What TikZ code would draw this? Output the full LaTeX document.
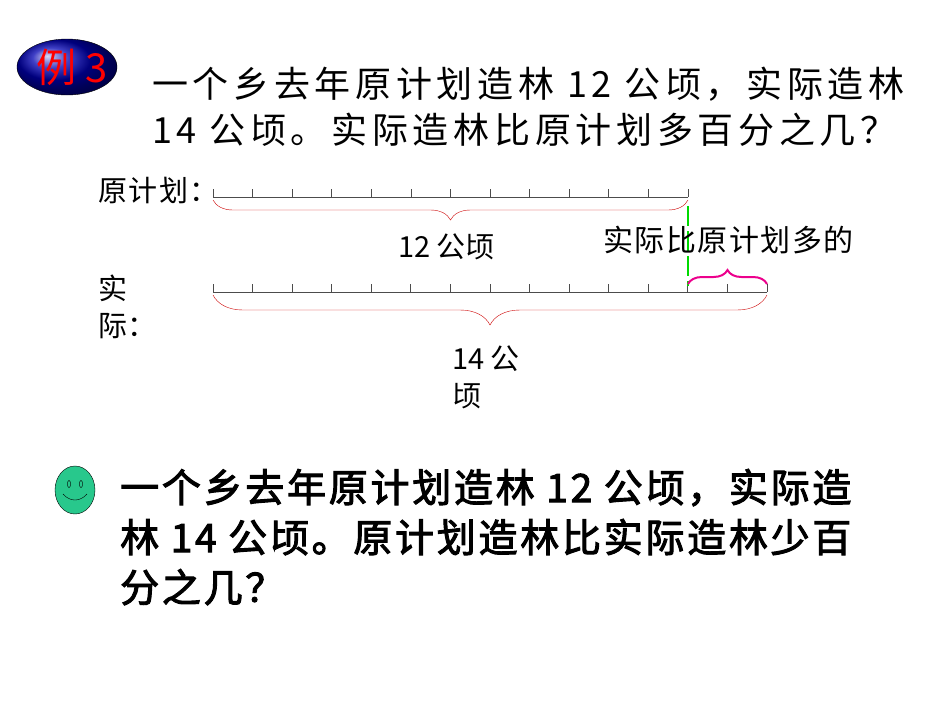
\documentclass[tikz,border=0pt]{standalone}
\usepackage{fontspec}
\setmainfont{Noto Sans CJK SC}[AutoFakeBold=2.5]
\usetikzlibrary{decorations.pathreplacing}
\begin{document}
\begin{tikzpicture}[x=1pt,y=-1pt,
  txt/.style={anchor=base west,inner sep=0pt,font=\fontsize{#1}{#1}\selectfont},
  rbrace/.style={draw=red!80!black,decorate,decoration={brace,mirror,amplitude=#1}},
  tick/.style={draw=black!70,line width=0.8pt}]
\useasboundingbox (0,0) rectangle (950,713);
% badge
\shade[ball color=blue!70!black,draw=black] (67,67) ellipse (50 and 28);
\node[txt=40,text=red] (ex) at (36,82) {例 3};
% title
\node[txt=36] (t1) at (152,97) {\addfontfeature{LetterSpace=13}一个乡去年原计划造林 12 公顷，实际造林};
\node[txt=36] (t2) at (152,143) {\addfontfeature{LetterSpace=13}14 公顷。实际造林比原计划多百分之几？};
% labels
\node[txt=29] (l1) at (98,201) {\addfontfeature{LetterSpace=5}原计划：};
\node[txt=29] (l2) at (98,299) {实};
\node[txt=29] (l3) at (98,336) {际：};
% top line
\draw[tick] (213,197) -- (688,197);
\foreach \i in {0,...,12} \draw[tick] ({213+\i*475/12},197) -- ({213+\i*475/12},189);
% bottom line
\draw[tick] (213,292) -- (767,292);
\foreach \i in {0,...,14} \draw[tick] ({213+\i*554/14},292) -- ({213+\i*554/14},284);
\coordinate (a1) at (213,200); \coordinate (a2) at (688,200);
\coordinate (b1) at (213,295); \coordinate (b2) at (767,295);
\draw[rbrace=20pt] (a1) -- (a2);
\draw[rbrace=30pt] (b1) -- (b2);
\node[txt=29] (n12) at (398,257) {12 公顷};
\node[txt=29] (n14a) at (452,369) {14 公};
\node[txt=29] (n14b) at (452,406) {顷};
% green dashed
\coordinate (g1) at (688,206); \coordinate (g2) at (688,286);
\draw[green!85!black,line width=2pt,dash pattern=on 20pt off 5pt] (g1) -- (g2);
\node[txt=30] (more) at (603,251) {\addfontfeature{LetterSpace=5}实际比原计划多的};
\coordinate (m1) at (688,284); \coordinate (m2) at (767,284);
\draw[magenta,line width=2pt,decorate,decoration={brace,amplitude=14pt}] (m1) -- (m2);
% smiley
\draw[fill={rgb,255:red,40;green,200;blue,140}] (75,490) ellipse (20 and 24) node (sm) {};
\draw (69,484) ellipse (1.6 and 3.5);
\draw (81,484) ellipse (1.6 and 3.5);
\draw (63,494) .. controls (70,502) and (80,502) .. (87,494);
% bottom text
\tikzset{bt/.style={anchor=base west,inner sep=0pt,font=\fontsize{39}{39}\selectfont\bfseries\addfontfeature{LetterSpace=7}}}
\node[bt] (b1t) at (120,502) {一个乡去年原计划造林 12 公顷，实际造};
\node[bt] (b2t) at (120,552) {林 14 公顷。原计划造林比实际造林少百};
\node[bt] (b3t) at (120,602) {分之几？};
\end{tikzpicture}
\end{document}
